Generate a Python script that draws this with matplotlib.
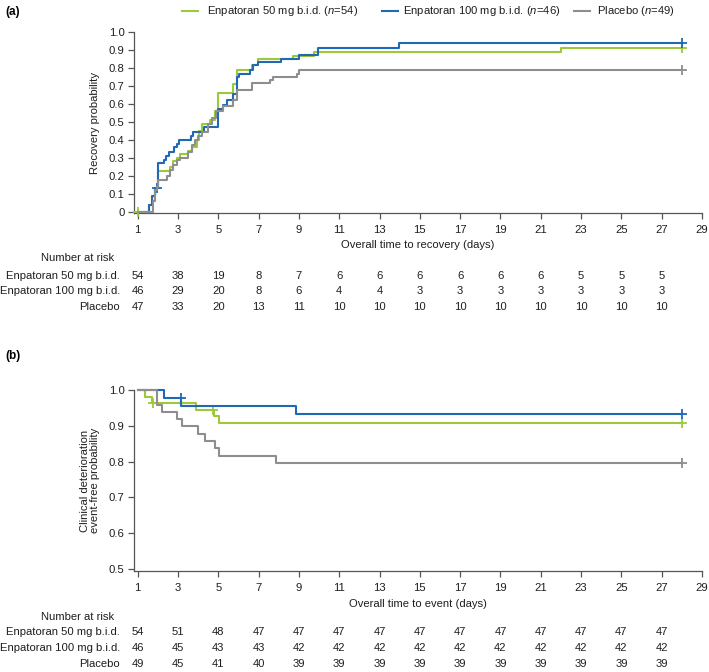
import matplotlib
matplotlib.use("Agg")
import matplotlib.pyplot as plt
from matplotlib.lines import Line2D
from matplotlib.transforms import blended_transform_factory

plt.rcParams['font.family'] = ['Liberation Sans', 'DejaVu Sans']
plt.rcParams['mathtext.fontset'] = 'custom'
plt.rcParams['mathtext.it'] = 'Liberation Sans:italic'
plt.rcParams['mathtext.rm'] = 'Liberation Sans'
plt.rcParams['font.size'] = 8.1

FS = 8.1

# ---------------- data ----------------
groups = ["Enpatoran 50 mg b.i.d.", "Enpatoran 100 mg b.i.d.", "Placebo"]
legend_n = [54, 46, 49]
colors = ["#9DC83B", "#2169B3", "#8E8E8E"]

# Panel (a): recovery probability (step times and values)
a50_t = [1.55, 1.7, 1.88, 2.02, 2.6, 2.77, 2.93, 3.1, 3.5, 3.68, 3.93, 4.05, 4.17, 4.59, 4.83,
         5.0, 5.74, 5.91, 6.65, 6.98, 8.72, 9.75, 22.0]
a50_v = [0.04, 0.085, 0.13, 0.225, 0.25, 0.28, 0.30, 0.32, 0.34, 0.36, 0.40, 0.45, 0.49, 0.51, 0.56,
         0.66, 0.71, 0.79, 0.82, 0.85, 0.87, 0.89, 0.911]
a100_t = [1.55, 1.7, 1.85, 2.02, 2.3, 2.4, 2.55, 2.8, 2.95, 3.05, 3.65, 3.75, 4.27, 5.0, 5.25,
          5.45, 5.75, 5.92, 6.05, 6.55, 6.72, 6.98, 8.1, 9.0, 9.95, 13.97]
a100_v = [0.04, 0.09, 0.13, 0.27, 0.29, 0.31, 0.335, 0.36, 0.38, 0.40, 0.42, 0.445, 0.47, 0.575, 0.595,
          0.62, 0.655, 0.75, 0.77, 0.79, 0.82, 0.835, 0.85, 0.875, 0.915, 0.939]
apl_t = [1.78, 1.85, 1.95, 2.03, 2.44, 2.6, 2.77, 2.93, 3.1, 3.5, 3.68, 3.85, 4.0, 4.17, 4.5,
         4.67, 4.9, 5.25, 5.74, 5.91, 6.65, 7.56, 7.73, 8.88, 9.02]
apl_v = [0.06, 0.12, 0.14, 0.175, 0.20, 0.23, 0.26, 0.29, 0.30, 0.33, 0.37, 0.40, 0.42, 0.445, 0.49,
         0.52, 0.56, 0.59, 0.62, 0.68, 0.72, 0.735, 0.75, 0.77, 0.79]
a_start = 0.0
a_cens = {0: [(1.0, 0.0), (28.0, 0.911)], 1: [(1.95, 0.13), (28.0, 0.939)], 2: [(28.0, 0.79)]}

# Panel (b): clinical deterioration event-free probability
b50_t = [1.35, 1.7, 3.89, 4.79, 5.05]
b50_v = [0.981, 0.963, 0.944, 0.926, 0.907]
b100_t = [2.31, 3.13, 8.85]
b100_v = [0.978, 0.956, 0.934]
bpl_t = [1.94, 2.19, 2.97, 3.18, 4.0, 4.34, 4.83, 5.05, 7.86]
bpl_v = [0.959, 0.939, 0.918, 0.898, 0.878, 0.857, 0.837, 0.816, 0.796]
b_start = 1.0
b_cens = {0: [(1.78, 0.963), (4.75, 0.944), (28.0, 0.907)], 1: [(3.13, 0.978), (28.0, 0.934)],
          2: [(28.0, 0.796)]}

risk_days = [1, 3, 5, 7, 9, 11, 13, 15, 17, 19, 21, 23, 25, 27]
a_risk = [[54, 38, 19, 8, 7, 6, 6, 6, 6, 6, 6, 5, 5, 5],
          [46, 29, 20, 8, 6, 4, 4, 3, 3, 3, 3, 3, 3, 3],
          [47, 33, 20, 13, 11, 10, 10, 10, 10, 10, 10, 10, 10, 10]]
b_risk = [[54, 51, 48, 47, 47, 47, 47, 47, 47, 47, 47, 47, 47, 47],
          [46, 45, 43, 43, 42, 42, 42, 42, 42, 42, 42, 42, 42, 42],
          [49, 45, 41, 40, 39, 39, 39, 39, 39, 39, 39, 39, 39, 39]]
x_ticks = [1, 3, 5, 7, 9, 11, 13, 15, 17, 19, 21, 23, 25, 27, 29]

W, H = 709, 672
fig = plt.figure(figsize=(W / 100, H / 100), dpi=100)

def fy(py):
    return 1 - py / H

def fx(px):
    return px / W

spine_col = "#555555"
text_col = "#1E1E1E"

def style_axes(ax):
    for s in ["top", "right"]:
        ax.spines[s].set_visible(False)
    for s in ["left", "bottom"]:
        ax.spines[s].set_color(spine_col)
        ax.spines[s].set_linewidth(0.9)
    ax.tick_params(axis='both', direction='out', length=4.5, width=0.9, color=spine_col,
                   labelsize=FS, labelcolor=text_col)
    ax.tick_params(axis='x', pad=4.2)
    ax.tick_params(axis='y', pad=2.3)

def draw_curves(ax, series, start, cens):
    order = [2, 0, 1]
    for i in order:
        t, v = series[i]
        xs = [1.0] + list(t) + [28.0]
        ys = [start] + list(v) + [v[-1]]
        ax.step(xs, ys, where='post', color=colors[i], lw=1.5, clip_on=False, zorder=3 + i)
        for (cx, cy) in cens[i]:
            ax.plot([cx], [cy], marker='+', ms=7, mew=1.3, color=colors[i], clip_on=False,
                    zorder=3 + i)

def risk_table(ax, rows_py, header_py, table):
    tr = blended_transform_factory(ax.transData, fig.transFigure)
    fig.text(fx(77.5), fy(header_py), "Number at risk", ha='center', va='center', fontsize=FS,
             color=text_col)
    for r, name in enumerate(groups):
        fig.text(fx(120), fy(rows_py[r]), name, ha='right', va='center', fontsize=FS,
                 color=text_col)
        for d, val in zip(risk_days, table[r]):
            ax.text(d, fy(rows_py[r]), str(val), transform=tr, ha='center', va='center',
                    fontsize=FS, color=text_col)

# ---------------- panel (a) ----------------
ax_a = fig.add_axes([fx(134), fy(212.7), fx(702) - fx(134), fy(32.3) - fy(212.7)])
style_axes(ax_a)
ax_a.set_xlim(0.817, 29)
ax_a.set_ylim(-0.0056, 1.0)
ax_a.set_xticks(x_ticks)
ax_a.set_yticks([i / 10 for i in range(11)])
ax_a.set_yticklabels(["0"] + [f"{i / 10:.1f}" for i in range(1, 11)])
draw_curves(ax_a, [(a50_t, a50_v), (a100_t, a100_v), (apl_t, apl_v)], a_start, a_cens)
ax_a.set_ylabel("Recovery probability", fontsize=FS, color=text_col, labelpad=6)
ax_a.set_xlabel("Overall time to recovery (days)", fontsize=FS, color=text_col, labelpad=4)
risk_table(ax_a, [275.7, 291.0, 306.7], 258.3, a_risk)

# ---------------- panel (b) ----------------
ax_b = fig.add_axes([fx(134), fy(571), fx(702) - fx(134), fy(390) - fy(571)])
style_axes(ax_b)
ax_b.set_xlim(0.817, 29)
ax_b.set_ylim(0.494, 1.0)
ax_b.set_xticks(x_ticks)
ax_b.set_yticks([0.5, 0.6, 0.7, 0.8, 0.9, 1.0])
ax_b.set_yticklabels(["0.5", "0.6", "0.7", "0.8", "0.9", "1.0"])
draw_curves(ax_b, [(b50_t, b50_v), (b100_t, b100_v), (bpl_t, bpl_v)], b_start, b_cens)
ax_b.set_ylabel("Clinical deterioration\nevent-free probability", fontsize=FS, color=text_col,
                labelpad=6, linespacing=1.1)
ax_b.set_xlabel("Overall time to event (days)", fontsize=FS, color=text_col, labelpad=4)
risk_table(ax_b, [631.7, 648.3, 664.0], 616.7, b_risk)

# ---------------- panel letters ----------------
fig.text(fx(5), fy(12), "(a)", fontsize=8.5, fontweight='bold', ha='left', va='center')
fig.text(fx(5), fy(356), "(b)", fontsize=8.5, fontweight='bold', ha='left', va='center')

# ---------------- legend ----------------
leg_y = fy(10.5)
leg_items = [(182, 207), (382, 403), (574, 597)]
for i, (lx, tx) in enumerate(leg_items):
    fig.add_artist(Line2D([fx(lx), fx(lx + 16)], [leg_y, leg_y], color=colors[i], lw=1.5,
                          transform=fig.transFigure))
    fig.text(fx(tx), leg_y, f"{groups[i]} ($n$={legend_n[i]})" if i < 2 else f"Placebo ($n$={legend_n[i]})",
             ha='left', va='center', fontsize=FS, color=text_col)

fig.savefig("out.png", dpi=100)
